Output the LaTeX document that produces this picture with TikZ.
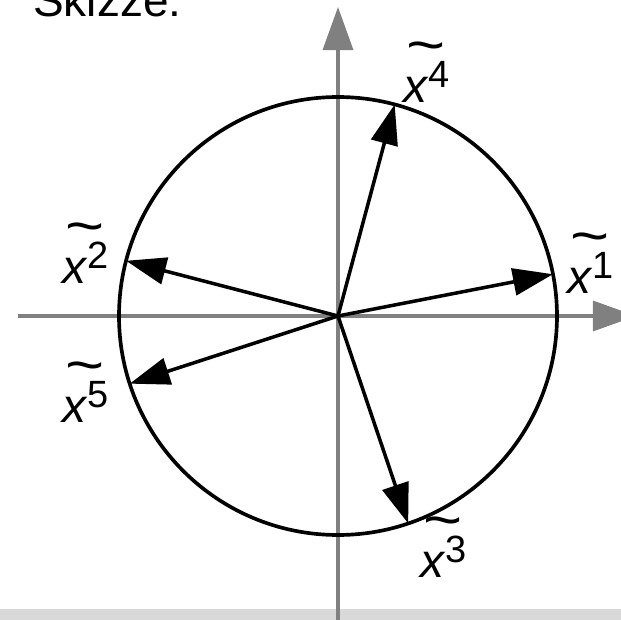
\documentclass[tikz,border=0pt]{standalone}
\usepackage{fontspec}
\setmainfont{Liberation Sans}
\usetikzlibrary{arrows.meta}
\definecolor{axisgray}{RGB}{128,128,128}
\definecolor{bandgray}{RGB}{217,217,217}
\newsavebox{\xvecbox}
\newcommand{\xvec}[1]{%
  \sbox{\xvecbox}{\textit{x}\raisebox{10.5pt}{\fontsize{27}{27}\selectfont #1}}%
  \rlap{\makebox[\wd\xvecbox][c]{\raisebox{27pt}{\scalebox{1.4}[1.2]{\textasciitilde}}}}%
  \usebox{\xvecbox}}
\tikzset{
    axisline/.style={
        line width=2.4pt,draw=axisgray,
        -{Triangle[length=1.075cm,width=0.75cm]}
    },
    vec/.style={
        line width=2.5pt,-{Triangle[length=1cm,width=0.675cm]}
    },
    veclabel/.style={
        anchor=base west,inner sep=0pt,font=\fontsize{34}{39}\selectfont
    }
}
\begin{document}
\begin{tikzpicture}[x=0.025cm,y=0.025cm]

\useasboundingbox (-338,-304) rectangle (283,316);
\clip (-338,-304) rectangle (283,316);
\fill[bandgray] (-338,-304) rectangle (283,-293);

\coordinate (O) at (0,0);
\coordinate (xl) at (-320,0);
\coordinate (xr) at (298,0);
\coordinate (yb) at (0,-310);
\coordinate (yt) at (0,309);
\draw[axisline] (xl) -- (xr);
\draw[axisline] (yb) -- (yt);

\draw[line width=2.6pt] (O) circle (219);

\coordinate (t1) at (11:219);
\coordinate (t2) at (165.4:219);
\coordinate (t3) at (-71.3:219);
\coordinate (t4) at (75:219);
\coordinate (t5) at (198:219);
\draw[vec] (O) -- (t1);
\draw[vec] (O) -- (t2);
\draw[vec] (O) -- (t3);
\draw[vec] (O) -- (t4);
\draw[vec] (O) -- (t5);

\node[veclabel] (l1) at (229,23) {\xvec{1}};
\node[veclabel] (l2) at (-276,33) {\xvec{2}};
\node[veclabel] (l3) at (82,-261) {\xvec{3}};
\node[veclabel] (l4) at (65,214) {\xvec{4}};
\node[veclabel] (l5) at (-276,-106) {\xvec{5}};

\node[veclabel,font=\fontsize{32.7}{39}\selectfont] (title) at (-305,299) {Skizze:};

\end{tikzpicture}
\end{document}
